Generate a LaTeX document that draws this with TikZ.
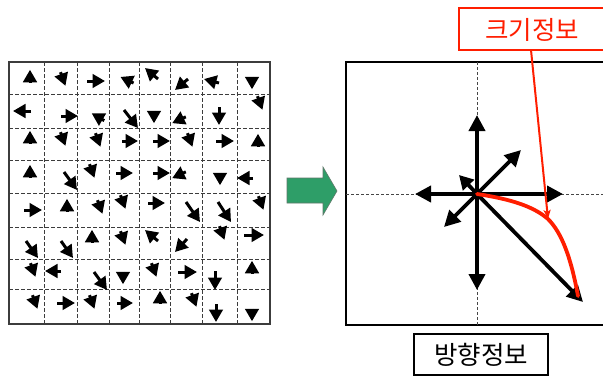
\documentclass[tikz,border=0pt]{standalone}
\usepackage{fontspec}
\newfontfamily\krfont{Noto Sans CJK KR}
\usetikzlibrary{arrows.meta}
\definecolor{gridgray}{RGB}{60,60,60}
\definecolor{axisgray}{RGB}{70,70,70}
\definecolor{redlab}{RGB}{255,30,0}
\definecolor{arrowgreen}{RGB}{46,158,104}
\definecolor{greenedge}{RGB}{95,120,105}
\tikzset{
  garr/.style={line width=3pt, -{Triangle[length=12.5pt,width=13.5pt]}},
  barr/.style={line width=3.8pt, -{Triangle[length=16pt,width=16pt]}},
  gridline/.style={gridgray, line width=0.9pt, dash pattern=on 3.5pt off 2.5pt},
  axisline/.style={axisgray, line width=0.7pt, dash pattern=on 3pt off 2pt},
  redcurve/.style={redlab, line width=3.8pt, line cap=round},
  leader/.style={redlab, line width=2pt, -{Stealth[length=9pt,width=7pt,inset=2pt]}},
  lbl/.style={font=\krfont\fontsize{25.5}{28}\selectfont, inner sep=0pt},
}
% triangle-like arrow: centre x, centre y, visual angle, total length
\newcommand\gtri[4]{\draw[garr] ([shift={({180-(#3)}:{(#4)/2})}]#1,#2) -- ++({-(#3)}:#4);}
\begin{document}
\begin{tikzpicture}[x=1pt,y=-1pt]
\useasboundingbox (0,0) rectangle (603,376);
\fill[white] (0,0) rectangle (603,376);

% ---------------- left grid ----------------
\foreach \x in {44,77,109,139,170,202,237} \draw[gridline] (\x,62) -- (\x,324);
\foreach \y in {94,128,160,193,227,259,289} \draw[gridline] (9,\y) -- (270,\y);
\draw[gridgray, line width=1.3pt] (9,62) rectangle (270,324);

% row 1
\gtri{30}{76}{90}{12.5}
\gtri{63}{79}{-70}{14.5}
\draw[garr] (87,81) -- (105,81);
\gtri{127}{80}{155}{14.5}
\draw[garr] (158,79) -- (145,68);
\draw[garr] (188,79) -- (175,90);
\draw[garr] (219,83) -- (204,79);
\gtri{252}{83}{-90}{12.5}
% row 2
\draw[garr] (31,111) -- (13,111);
\draw[garr] (61,116) -- (78,116);
\gtri{98}{117}{150}{14.5}
\draw[garr] (124,110) -- (138,128);
\gtri{154}{117}{-90}{12.5}
\gtri{179}{120}{205}{15}
\draw[garr] (219,107) -- (219,125);
\gtri{260}{103}{-70}{14.5}
% row 3
\gtri{30}{137}{90}{12.5}
\gtri{63}{139}{-70}{14.5}
\gtri{98}{140}{-70}{14.5}
\draw[garr] (122,141) -- (138,141);
\draw[garr] (153,141) -- (170,141);
\gtri{190}{140}{-70}{14.5}
\draw[garr] (216,141) -- (234,141);
\gtri{258}{140}{90}{12.5}
% row 4
\gtri{30}{171}{90}{12.5}
\draw[garr] (64,172) -- (77,190);
\gtri{92}{171}{-70}{14.5}
\draw[garr] (116,173) -- (133,173);
\draw[garr] (153,173) -- (170,173);
\gtri{179}{175}{205}{15}
\gtri{220}{179}{-90}{12.5}
\draw[garr] (253,178) -- (237,178);
% row 5
\draw[garr] (24,210) -- (42,210);
\gtri{67}{205}{90}{12.5}
\gtri{100}{207}{-70}{14.5}
\gtri{123}{202}{-70}{14.5}
\draw[garr] (148,203) -- (165,203);
\draw[garr] (186,202) -- (200,222);
\draw[garr] (218,202) -- (231,222);
\gtri{261}{203}{-70}{14.5}
% row 6
\draw[garr] (26,241) -- (38,258);
\draw[garr] (61,241) -- (73,258);
\gtri{92}{236}{90}{12.5}
\gtri{123}{238}{-70}{14.5}
\draw[garr] (158,241) -- (145,230);
\draw[garr] (187,239) -- (175,252);
\gtri{222}{233}{-70}{14.5}
\draw[garr] (244,235) -- (264,235);
% row 7
\gtri{33}{270}{-70}{14.5}
\draw[garr] (61,271) -- (45,271);
\draw[garr] (94,272) -- (107,290);
\gtri{123}{278}{-90}{12.5}
\gtri{154}{270}{-70}{14.5}
\draw[garr] (178,272) -- (197,272);
\draw[garr] (215,271) -- (215,290);
\gtri{252}{267}{90}{12.5}
% row 8
\gtri{35}{302}{-70}{14.5}
\draw[garr] (57,303) -- (75,303);
\gtri{92}{302}{-70}{14.5}
\draw[garr] (117,303) -- (133,303);
\gtri{160}{297}{90}{12.5}
\gtri{194}{300}{-70}{14.5}
\draw[garr] (216,304) -- (216,322);
\gtri{252}{315}{-90}{12.5}

% ---------------- green arrow ----------------
\filldraw[fill=arrowgreen, draw=greenedge, line width=0.6pt]
  (287,178) -- (323,178) -- (323,167) -- (337,191) -- (323,215) -- (323,203) -- (287,203) -- cycle;

% ---------------- right panel ----------------
\draw[black, line width=1.2pt] (612,62) -- (346,62) -- (346,325) -- (612,325);
\draw[axisline] (477,62) -- (477,325);
\draw[axisline] (346,194) -- (612,194);

\coordinate (o) at (477,194);
\coordinate (tU) at (477,115);
\coordinate (tNE) at (521,150);
\coordinate (tR) at (563,194);
\coordinate (tL) at (415,194);
\coordinate (tNW) at (459,175);
\coordinate (tSW) at (444,227);
\coordinate (tD) at (477,290);
\coordinate (tSE) at (583,302);
\foreach \t in {tU,tNE,tR,tL,tSW,tD,tSE} \draw[barr] (o) -- (\t);
\draw[line width=3.8pt, -{Triangle[length=14pt,width=15pt]}] (o) -- (tNW);

% red magnitude curve
\draw[redcurve] (o) .. controls (510,199) and (533,206) .. (548,219)
  .. controls (562,233) and (571,258) .. (578,296);

% label boxes
\draw[redlab, line width=2pt] (615,8) -- (459,8) -- (459,50) -- (615,50);
\node[lbl, text=redlab] (sizelbl) at (532,30) {크기정보};
\coordinate (leadstart) at (531,50);
\coordinate (leadend) at (548,219);
\draw[leader] (leadstart) -- (leadend);

\node[lbl, draw=black, line width=1.5pt, minimum width=134pt, minimum height=41pt] (dirlbl) at (481,354.5) {방향정보};
\end{tikzpicture}
\end{document}
